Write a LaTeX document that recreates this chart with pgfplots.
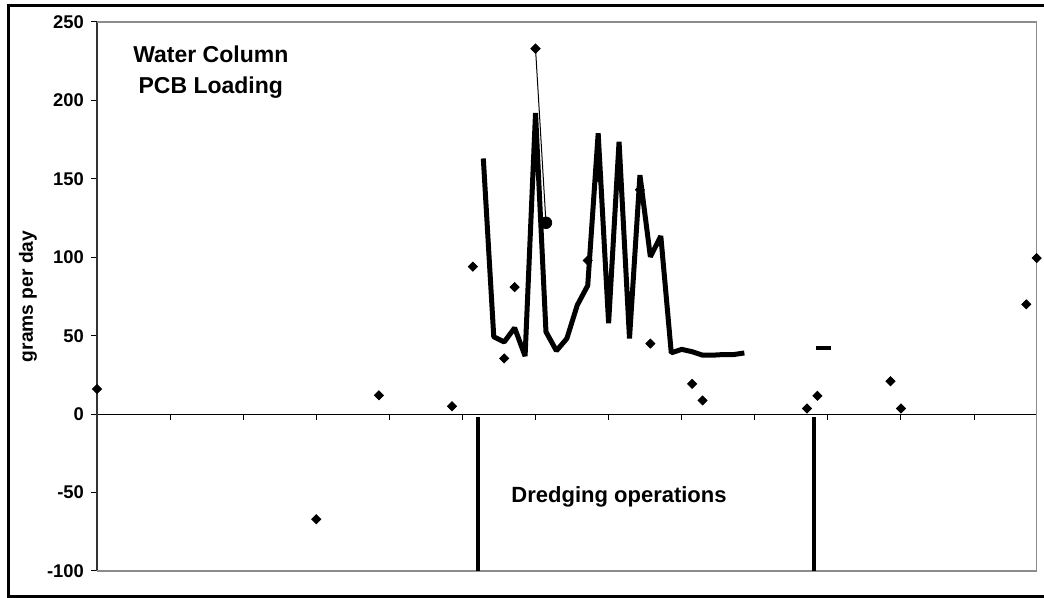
\documentclass[border=0pt]{standalone}
\usepackage{fontspec}
\setmainfont{Liberation Sans}
\usepackage{pgfplots}
\pgfplotsset{compat=1.18}

\begin{document}
\begin{tikzpicture}
\useasboundingbox (0,0) rectangle (522pt,299pt);
\begin{axis}[
  at={(48.5pt,13.5pt)}, anchor=south west,
  scale only axis, width=469.85pt, height=274.5pt,
  xmin=0, xmax=90, ymin=-100, ymax=250,
  axis x line*=middle, axis y line*=left,
  x axis line style={black, line width=0.6pt},
  y axis line style={black!80, line width=0.6pt},
  xtick={0,7,...,84}, xticklabels={},
  ytick={-100,-50,...,250},
  tick align=outside, major tick length=3pt,
  tick style={black, line width=0.5pt},
  /pgf/number format/assume math mode=true,
  tick label style={font=\fontsize{9.2}{10}\selectfont\bfseries},
  ylabel={grams per day},
  ylabel style={at={(axis description cs:-0.0734,0.5)}, anchor=center,
    font=\fontsize{9.6}{11}\selectfont\bfseries},
  clip=false,
]
% plot area border (grey) on three sides
\draw[black!45, line width=0.7pt] (rel axis cs:0,0) -- (rel axis cs:1,0)
  -- (rel axis cs:1,1) -- (rel axis cs:0,1);

% single measurements
\addplot[only marks, mark=square*, mark size=1.6pt, mark options={rotate=45}]
  coordinates {
  (0,16)(21,-67)(27,12)(34,5)(36,94)(39,35.5)(40,81)(47,98)(48,151)(52,143)
  (53,45)(57,19.3)(58,8.7)(68,3.6)(69,11.7)(76,21)(77,3.6)(89,70)(90,99.5)};

% daily loading during dredging
\addplot[black, line width=2.5pt, line join=bevel] coordinates {
  (37,163)(38,49.3)(39,46)(40,55)(41,37)(42,192)(43,52.5)(44,40.4)(45,48.2)
  (46,69.5)(47,82)(48,179)(49,58)(50,173.7)(51,48.2)(52,152.4)(53,100.3)
  (54,113.5)(55,39.1)(56,41.3)(57,39.8)(58,37.6)(59,37.6)(60,38)(61,38)(62,39)};

\addplot[black, line width=0.5pt, mark=square*, mark size=1.6pt,
  mark options={rotate=45}] coordinates {(42,233)(43,122)};
\addplot[only marks, mark=*, mark size=2.9pt] coordinates {(43,122)};

\addplot[black, line width=2pt, line cap=butt] coordinates {(68.9,42)(70.3,42)};

% dredging period markers
\addplot[black, line width=1.8pt] coordinates {(36.5,-2)(36.5,-100)};
\addplot[black, line width=1.8pt] coordinates {(68.65,-2)(68.65,-100)};

\node[align=center, font=\fontsize{11.5}{15.7}\selectfont\bfseries]
  at (axis cs:10.9,218) {Water Column\\PCB Loading};
\node[font=\fontsize{11}{13}\selectfont\bfseries]
  at (axis cs:50,-53) {Dredging operations};
\end{axis}
\draw[line width=1.5pt] (4.2pt,0.75pt) rectangle (540pt,296pt);
\end{tikzpicture}
\end{document}
